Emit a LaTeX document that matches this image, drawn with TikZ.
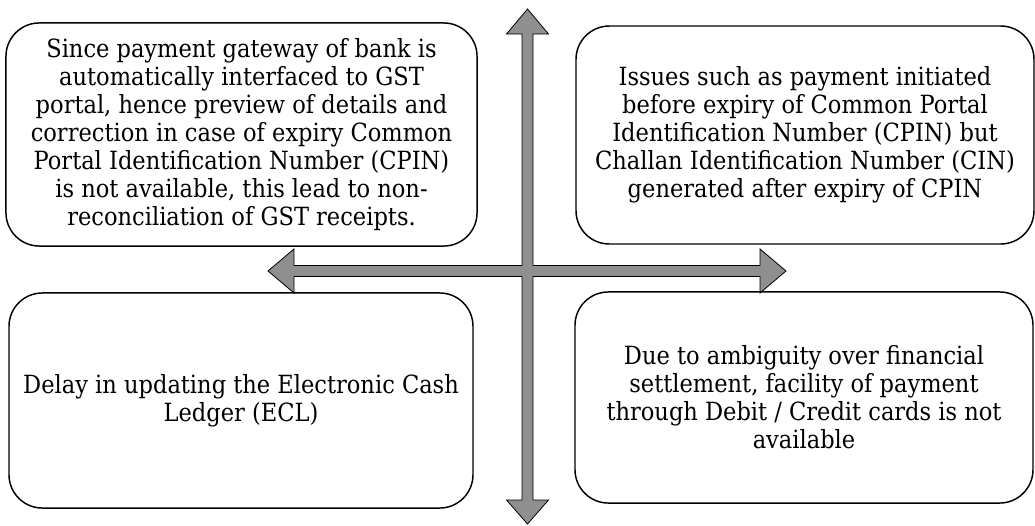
\documentclass[tikz,border=0pt]{standalone}
\usepackage{fontspec}
\setmainfont{DejaVu Serif Condensed}
\usepackage{tikz}
\usetikzlibrary{positioning}
\definecolor{arrowgray}{RGB}{143,143,143}
\tikzset{
  issuebox/.style={draw, line width=1.1pt, rounded corners=25pt, align=center,
    inner sep=0pt, font=\fontsize{18.8}{21}\selectfont},
  crossarrow/.style={draw, line width=0.6pt, fill=arrowgray, line join=miter}
}

\begin{document}
\begin{tikzpicture}[x=0.75pt,y=0.75pt,yscale=-1,xscale=1]
\useasboundingbox (0,0) rectangle (1035,525);

% Centre of the cross
\coordinate (c) at (527.5,271);

%Cross Arrow
\draw [crossarrow, shift={(c)}] (0,-262) -- (21,-237) -- (5.5,-237) -- (5.5,-5.5) -- (232.5,-5.5) -- (232.5,-22) -- (258.5,0) -- (232.5,22) -- (232.5,5.5) -- (5.5,5.5) -- (5.5,229) -- (21,229) -- (0,253) -- (-21,229) -- (-5.5,229) -- (-5.5,5.5) -- (-233.5,5.5) -- (-233.5,22) -- (-259.5,0) -- (-233.5,-22) -- (-233.5,-5.5) -- (-5.5,-5.5) -- (-5.5,-237) -- (-21,-237) -- cycle ;

% Text Node
\node [issuebox, minimum width=353.3pt, minimum height=167.3pt] (gateway) at (241.5,134.5) {Since payment gateway of bank is\\automatically interfaced to GST\\portal, hence preview of details and\\correction in case of expiry Common\\Portal Identification Number (CPIN)\\is not available, this lead to non-\\reconciliation of GST receipts.};
% Text Node
\node [issuebox, minimum width=343.5pt, minimum height=163.5pt] (cpin) at (805,135) {Issues such as payment initiated\\before expiry of Common Portal\\Identification Number (CPIN) but\\Challan Identification Number (CIN)\\generated after expiry of CPIN};
% Text Node
\node [issuebox, minimum width=348pt, minimum height=161.3pt] (ecl) at (241,400.5) {Delay in updating the Electronic Cash\\Ledger (ECL)};
% Text Node
\node [issuebox, minimum width=343.5pt, minimum height=158.3pt] (cards) at (804,397.5) {Due to ambiguity over financial\\settlement, facility of payment\\through Debit / Credit cards is not\\available};
\end{tikzpicture}
\end{document}
